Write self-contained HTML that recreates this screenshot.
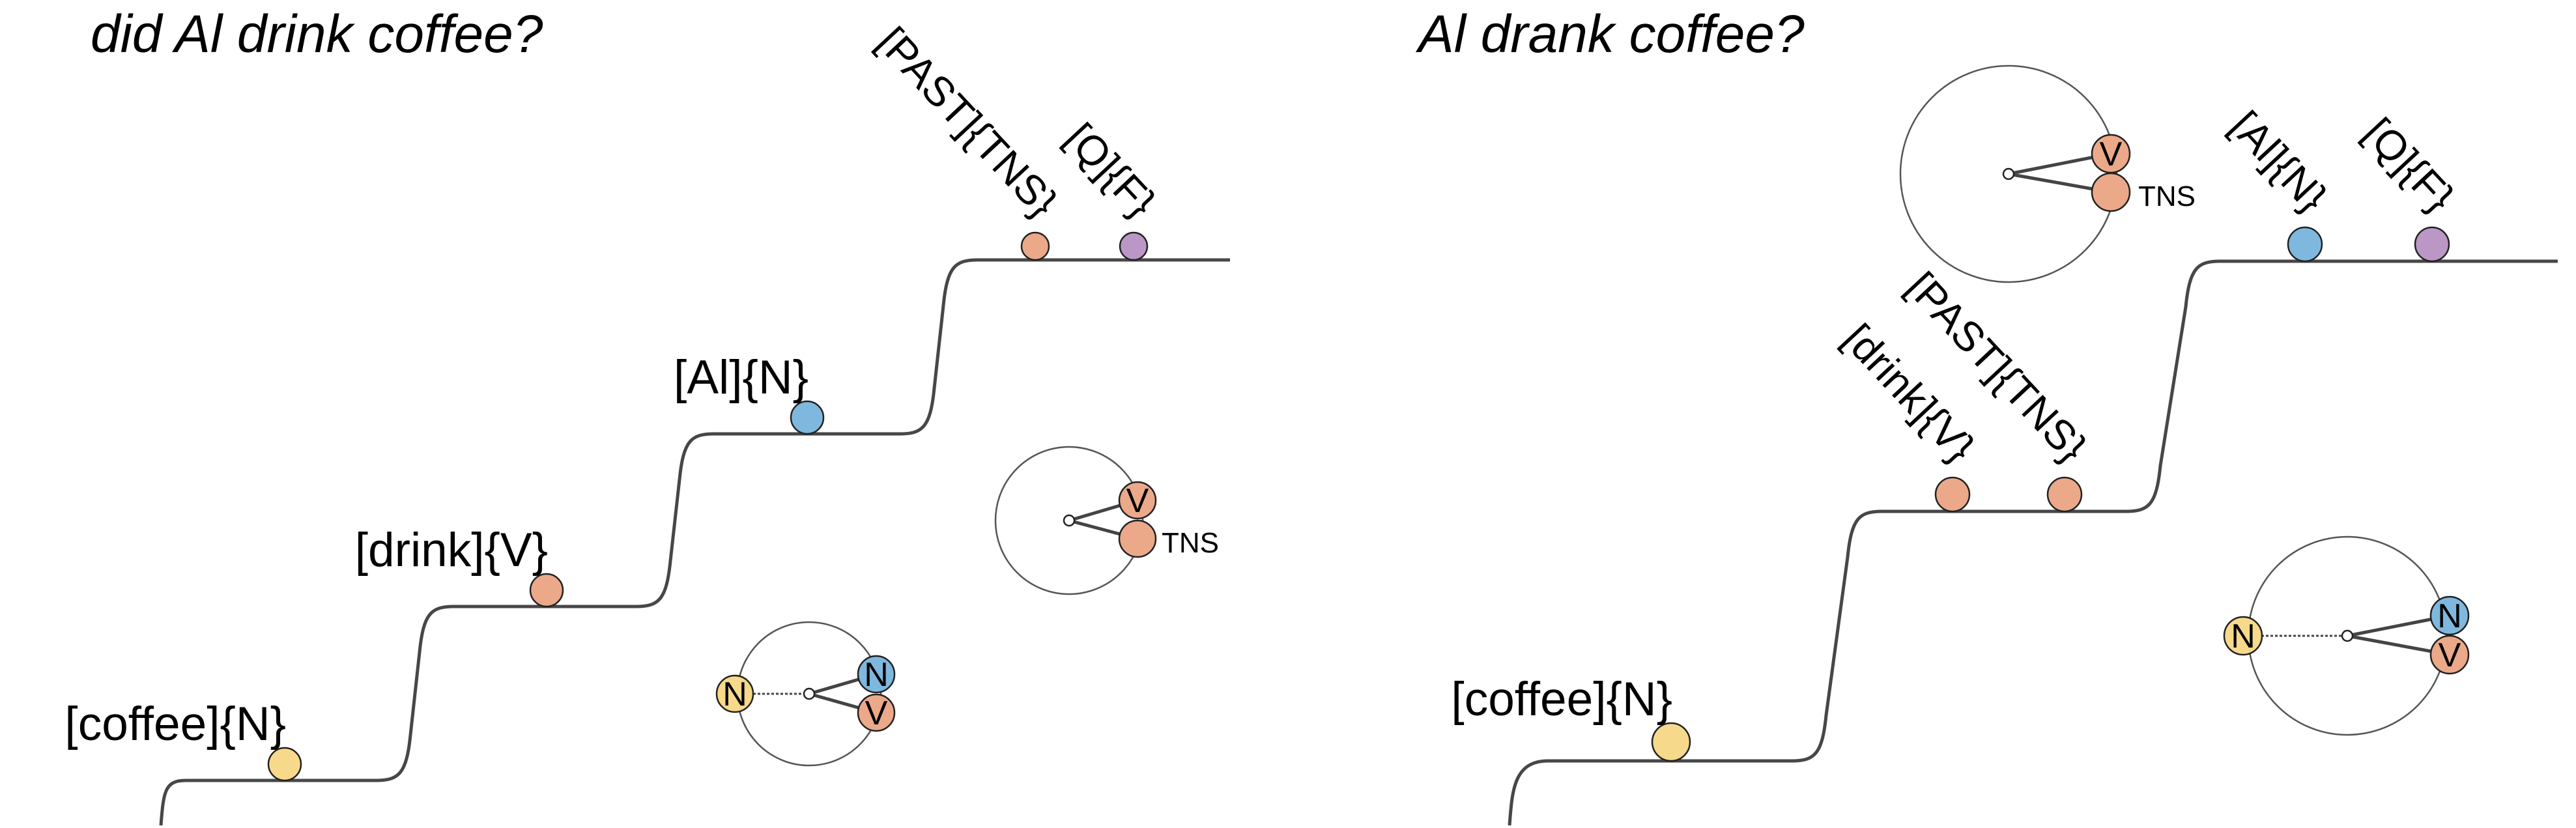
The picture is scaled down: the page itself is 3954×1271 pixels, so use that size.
<!DOCTYPE html>
<html><head><meta charset="utf-8"><style>
html,body{margin:0;padding:0;background:#fff;}
svg{display:block;}
text{font-family:"Liberation Sans",sans-serif;fill:#000;}
</style></head><body>
<svg id="c" width="3954" height="1271" viewBox="0 0 3954 1271" xmlns="http://www.w3.org/2000/svg">
<text x="139" y="80" font-size="82" font-style="italic">did Al drink coffee?</text>
<text x="2177" y="80" font-size="82" font-style="italic">Al drank coffee?</text>
<g id="steps"></g>
<g id="nodes"></g>
<g id="diagrams"></g>
</svg>
<script>
const leftFlatStart=[260,672,1071,1476];
const leftFlatEnd=[602,1001,1406,1888];
const leftLevels=[1198,931,666,399];
const rightFlatStart=[2351,2864,3383];
const rightFlatEnd=[2775,3288,3926];
const rightLevels=[1168,785,401];
const nodeLabels=["[coffee]{N}","[drink]{V}","[Al]{N}","[PAST]{TNS}","[Q]{F}","[coffee]{N}","[drink]{V}","[PAST]{TNS}","[Al]{N}","[Q]{F}"];
const nodeX=[437,839,1239,1589,1740,2565,2997,3169,3538,3733];
const nodeLevel=[0,1,2,3,3,0,1,1,2,2];
const nodeSide=["L","L","L","L","L","R","R","R","R","R"];
const nodeColors=["#f6d98a","#eba98a","#7fb8de","#eba98a","#bb97c6","#f6d98a","#eba98a","#eba98a","#7fb8de","#bb97c6"];
const nodeR=[25,25,25,21,21,29,26,26,26,26];
const nodeRotated=[false,false,false,true,true,false,true,true,true,true];

const NS="http://www.w3.org/2000/svg";
const svg=document.getElementById('c');
function mk(tag,attrs,parent){const e=document.createElementNS(NS,tag);for(const k in attrs)e.setAttribute(k,attrs[k]);(parent||svg).appendChild(e);return e;}

function stepPath(x0,starts,ends,levels){
  let d=`M${x0},1267 C${x0+4},1215 ${x0+6},${levels[0]} ${starts[0]+25},${levels[0]}`;
  for(let i=0;i<levels.length;i++){
    d+=` L${ends[i]-25},${levels[i]}`;
    if(i<levels.length-1){
      const x1=ends[i],x2=starts[i+1],yA=levels[i],yB=levels[i+1];
      const xm=(x1+x2)/2,ym=(yA+yB)/2;
      d+=` C${x1+10},${yA} ${x1+22},${yA-10} ${x1+28},${yA-70} L${xm},${ym} L${x2-28},${yB+70} C${x2-22},${yB+10} ${x2-10},${yB} ${x2+25},${yB}`;
    }
  }
  d+=` L${ends[levels.length-1]},${levels[levels.length-1]}`;
  return d;
}
const steps=document.getElementById('steps');
let p=mk('path',{d:stepPath(247,leftFlatStart,leftFlatEnd,leftLevels),fill:'none',stroke:'#474747','stroke-width':5,'stroke-linejoin':'round'},steps);


p=mk('path',{d:stepPath(2317,rightFlatStart,rightFlatEnd,rightLevels),fill:'none',stroke:'#474747','stroke-width':5,'stroke-linejoin':'round'},steps);



const nodes=document.getElementById('nodes');
for(let i=0;i<nodeLabels.length;i++){
  const lv=nodeSide[i]==="L"?leftLevels[nodeLevel[i]]:rightLevels[nodeLevel[i]];
  const cx=nodeX[i],r=nodeR[i],cy=lv-r;
  const c=mk('circle',{cx:cx,cy:cy,r:r,fill:nodeColors[i],stroke:'#222','stroke-width':2.5},nodes);
  
  
  let t;
  if(nodeRotated[i]){
    const ax=cx+6,ay=cy-r-20;
    t=mk('text',{x:ax,y:ay,'font-size':64,'text-anchor':'end',transform:`rotate(47 ${ax} ${ay})`},nodes);
  } else {
    t=mk('text',{x:cx+2,y:cy-r-12,'font-size':73,'text-anchor':'end'},nodes);
  }
  t.textContent=nodeLabels[i];
  
  
}

const dg=document.getElementById('diagrams');
function nodeC(x,y,r,fill,label){
  const c=mk('circle',{cx:x,cy:y,r:r,fill:fill,stroke:'#222','stroke-width':2.5},dg);
  
  
  if(label){const t=mk('text',{x:x,y:y+18,'font-size':52,'text-anchor':'middle'},dg);t.textContent=label;
  
  }
}
function big(cx,cy,r,name){const c=mk('circle',{cx:cx,cy:cy,r:r,fill:'none',stroke:'#555','stroke-width':2.5},dg);

}
function ln(x1,y1,x2,y2,dash){const l=mk('line',{x1:x1,y1:y1,x2:x2,y2:y2,stroke:'#444','stroke-width':dash?3:5,'stroke-dasharray':dash?'4 3':'none'},dg);

}
function tns(cx,cy,vx,vy1,vy2,r,tx,ty,name){
  big(cx,cy,Math.round((vx-cx)+r*0.3),name);
  ln(cx,cy,vx,vy1);ln(cx,cy,vx,vy2);
  nodeC(cx,cy,8,'#fff');
  nodeC(vx,vy1,r,'#eba98a','V');nodeC(vx,vy2,r,'#eba98a','');
  const t=mk('text',{x:tx,y:ty,'font-size':44},dg);t.textContent='TNS';
  
  
}
function nv(cx,cy,R,nx,bx,by1,by2,r,name){
  big(cx,cy,R,name);
  ln(nx,cy,cx,cy,true);ln(cx,cy,bx,by1);ln(cx,cy,bx,by2);
  nodeC(cx,cy,8,'#fff');
  nodeC(nx,cy,r,'#f6d98a','N');nodeC(bx,by1,r,'#7fb8de','N');nodeC(bx,by2,r,'#eba98a','V');
}
tns(1641,799,1746,768,827,28,1783,848,'left-tns-diagram');
nv(1242,1065,110,1128,1345,1035,1094,28,'left-nv-diagram');
tns(3083,267,3240,236,295,29,3282,316,'right-tns-diagram');
nv(3603,976,152,3443,3760,945,1005,29,'right-nv-diagram');
</script>
</body></html>
